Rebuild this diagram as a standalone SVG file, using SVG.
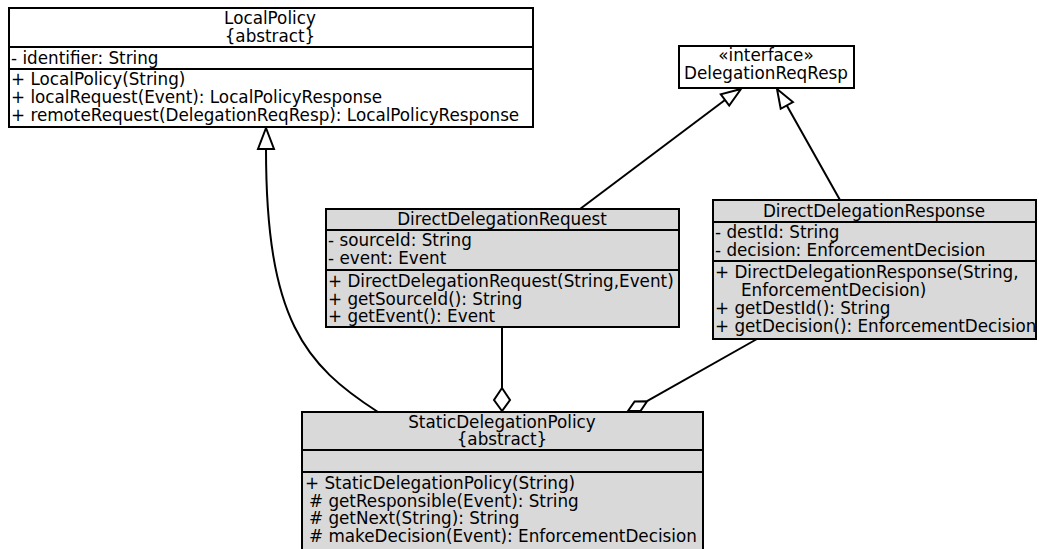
<svg xmlns="http://www.w3.org/2000/svg" width="1039" height="549" viewBox="0 0 1039 549">
<style>
text{font-family:"DejaVu Sans",sans-serif;font-size:16.8px;fill:#000}
.c{text-anchor:middle}
.box{stroke:#000;stroke-width:2}
.w{fill:#fff}
.g{fill:#d9d9d9}
.sep{stroke:#000;stroke-width:2}
.ln{fill:none;stroke:#000;stroke-width:2}
.head{fill:#fff;stroke:#000;stroke-width:2;stroke-linejoin:miter}
</style>
<rect width="1039" height="549" fill="#fff"/>
<g id="connectors">
<path class="ln" d="M378,412 C305,365 266,320 266,149"/>
<polygon class="head" points="266,128 258,149 274,149"/>
<line class="ln" x1="580" y1="209" x2="725" y2="100"/>
<polygon class="head" points="741,89 729.2,105.6 720.8,94.4"/>
<line class="ln" x1="840" y1="200" x2="786.8" y2="105.4"/>
<polygon class="head" points="777,89 792.9,102 780.7,108.8"/>
<line class="ln" x1="502" y1="327" x2="502" y2="388"/>
<polygon class="head" points="502,411 494,400 502,388 510,400"/>
<line class="ln" x1="757" y1="339" x2="647" y2="401.2"/>
<polygon class="head" points="628,411 640.5,411 647.1,401.2 634.6,401.4"/>
</g>
<g id="LocalPolicy">
<rect class="box w" x="9" y="8" width="524" height="119"/>
<line class="sep" x1="9" y1="47" x2="533" y2="47"/>
<line class="sep" x1="9" y1="69" x2="533" y2="69"/>
<text class="c" x="270" y="24">LocalPolicy</text>
<text class="c" x="270" y="42">{abstract}</text>
<text x="11" y="64">- identifier: String</text>
<text x="11" y="85">+ LocalPolicy(String)</text>
<text x="11" y="103">+ localRequest(Event): LocalPolicyResponse</text>
<text x="11" y="121">+ remoteRequest(DelegationReqResp): LocalPolicyResponse</text>
</g>
<g id="DelegationReqResp">
<rect class="box w" x="679" y="46" width="175" height="42"/>
<text class="c" x="766" y="61">«interface»</text>
<text class="c" x="766" y="79">DelegationReqResp</text>
</g>
<g id="DirectDelegationRequest">
<rect class="box g" x="326" y="209" width="353" height="118"/>
<line class="sep" x1="326" y1="230" x2="679" y2="230"/>
<line class="sep" x1="326" y1="270" x2="679" y2="270"/>
<text class="c" x="502" y="225">DirectDelegationRequest</text>
<text x="328" y="246">- sourceId: String</text>
<text x="328" y="264">- event: Event</text>
<text x="328" y="287">+ DirectDelegationRequest(String,Event)</text>
<text x="328" y="305">+ getSourceId(): String</text>
<text x="328" y="322">+ getEvent(): Event</text>
</g>
<g id="DirectDelegationResponse">
<rect class="box g" x="713" y="200" width="323" height="139"/>
<line class="sep" x1="713" y1="222" x2="1036" y2="222"/>
<line class="sep" x1="713" y1="261" x2="1036" y2="261"/>
<text class="c" x="874" y="217">DirectDelegationResponse</text>
<text x="715" y="238">- destId: String</text>
<text x="715" y="256">- decision: EnforcementDecision</text>
<text x="715" y="278">+ DirectDelegationResponse(String,</text>
<text x="741" y="296">EnforcementDecision)</text>
<text x="715" y="314">+ getDestId(): String</text>
<text x="715" y="332">+ getDecision(): EnforcementDecision</text>
</g>
<g id="StaticDelegationPolicy">
<rect class="box g" x="302" y="412" width="401" height="150"/>
<line class="sep" x1="302" y1="450" x2="703" y2="450"/>
<line class="sep" x1="302" y1="472" x2="703" y2="472"/>
<text class="c" x="502" y="428">StaticDelegationPolicy</text>
<text class="c" x="502" y="445">{abstract}</text>
<text x="305" y="489">+ StaticDelegationPolicy(String)</text>
<text x="309" y="507"># getResponsible(Event): String</text>
<text x="309" y="524"># getNext(String): String</text>
<text x="309" y="542"># makeDecision(Event): EnforcementDecision</text>
</g>
</svg>
